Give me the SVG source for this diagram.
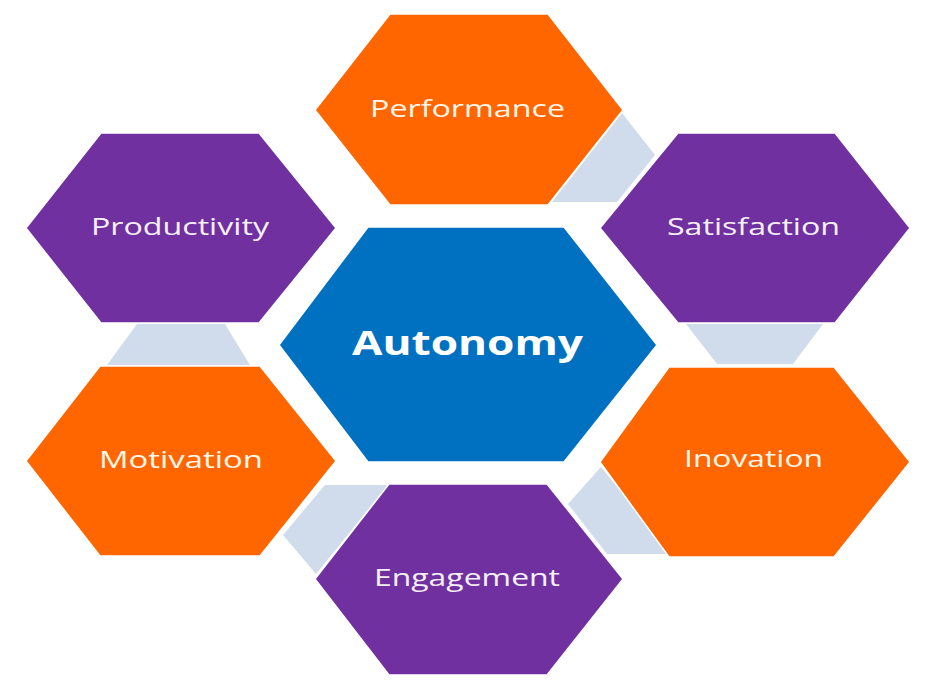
<svg xmlns="http://www.w3.org/2000/svg" width="926" height="693" viewBox="0 0 926 693">
<style>
.hex{stroke:#ffffff;stroke-width:1.5;stroke-linejoin:miter}
.orange{fill:#FF6600}
.purple{fill:#7030A0}
.blue{fill:#0070C0}
.link{fill:#D0DBEB}
.lbl{font-family:"Open Sans","Liberation Sans",sans-serif;font-size:24px;text-anchor:middle}
.lo{fill:#FFF6EC}
.lp{fill:#F6F0FA}
.main{font-family:"Open Sans","Liberation Sans",sans-serif;font-size:34px;font-weight:bold;fill:#ffffff;text-anchor:middle}
</style>
<rect width="926" height="693" fill="#ffffff"/>
<g id="connectors">
<polygon class="link" points="622,113 655,155 617,202 552,202"/>
<polygon class="link" points="686,324 823,324 793,364 717,364"/>
<polygon class="link" points="601,467 672,554 607,554 568,504"/>
<polygon class="link" points="325,485 388,485 316,574 283,535"/>
<polygon class="link" points="137,324 225,324 250,365 107,365"/>
</g>
<g id="autonomy">
<polygon class="hex blue" points="368,227 564,227 657,345 564,462 368,462 279,345"/>
<text class="main" x="467.5" y="355" textLength="231" lengthAdjust="spacingAndGlyphs">Autonomy</text>
</g>
<g id="performance">
<polygon class="hex orange" points="390,14 548,14 623,110 548,205 390,205 315,110"/>
<text class="lbl lo" x="467.5" y="117" textLength="195" lengthAdjust="spacingAndGlyphs">Performance</text>
</g>
<g id="satisfaction">
<polygon class="hex purple" points="678,133 835,133 910,228 835,323 678,323 600,228"/>
<text class="lbl lp" x="753.5" y="235" textLength="173" lengthAdjust="spacingAndGlyphs">Satisfaction</text>
</g>
<g id="inovation">
<polygon class="hex orange" points="669,367 834,367 910,462 834,557 669,557 600,462"/>
<text class="lbl lo" x="753.5" y="467" textLength="139" lengthAdjust="spacingAndGlyphs">Inovation</text>
</g>
<g id="engagement">
<polygon class="hex purple" points="389,484 547,484 623,579 547,675 389,675 315,579"/>
<text class="lbl lp" x="467" y="586" textLength="186" lengthAdjust="spacingAndGlyphs">Engagement</text>
</g>
<g id="motivation">
<polygon class="hex orange" points="100,366 260,366 336,461 260,556 100,556 26,461"/>
<text class="lbl lo" x="181" y="468" textLength="164" lengthAdjust="spacingAndGlyphs">Motivation</text>
</g>
<g id="productivity">
<polygon class="hex purple" points="101,133 259,133 336,228 259,323 101,323 26,228"/>
<text class="lbl lp" x="180" y="235" textLength="178" lengthAdjust="spacingAndGlyphs">Productivity</text>
</g>
</svg>
